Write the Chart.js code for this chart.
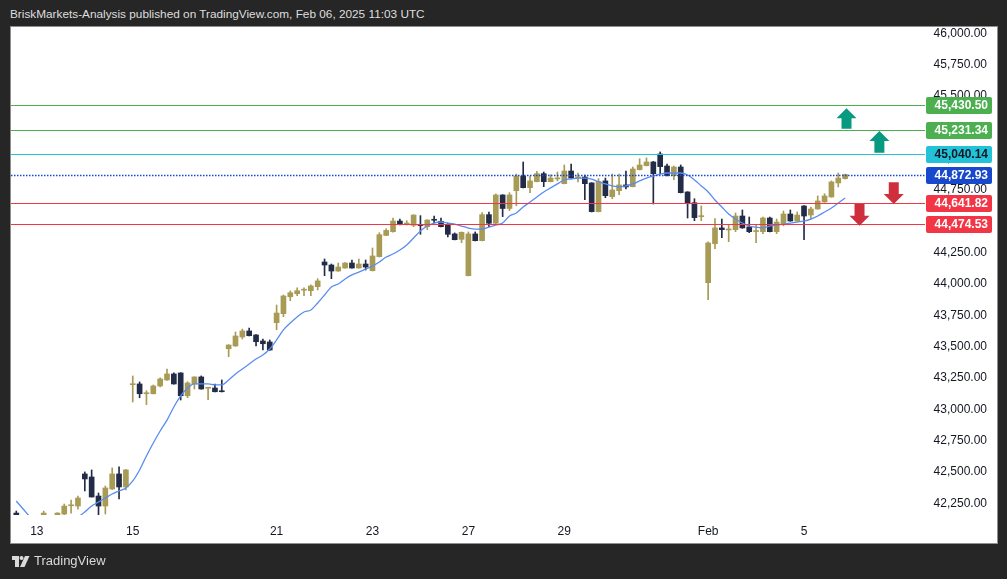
<!DOCTYPE html>
<html lang="en">
<head>
<meta charset="UTF-8">
<title>US30 4H</title>
<style>
  html, body { margin: 0; padding: 0; background: #262626; }
  body { width: 1007px; height: 579px; position: relative; overflow: hidden; font-family: "Liberation Sans", Arial, sans-serif; }
  .titulo { position: absolute; left: 10px; top: 5px; line-height: 18px; color: #dedede; font-size: 11.8px; white-space: nowrap; }
  .painel { position: absolute; left: 10px; top: 26px; width: 988px; height: 518px; background: #fff; border: 1px solid #8f8f8f; box-sizing: border-box; }
  canvas { position: absolute; left: 0; top: 0; }
  .rodape { position: absolute; left: 12px; top: 552px; line-height: 18px; color: #dadada; font-size: 13px; display: flex; align-items: center; gap: 4px; }
</style>
</head>
<body>
  <div class="titulo">BriskMarkets-Analysis published on TradingView.com, Feb 06, 2025 11:03 UTC</div>
  <div class="painel"></div>
  <canvas id="grafico" width="1007" height="579"></canvas>
  <div class="rodape">
    <svg width="18" height="11" viewBox="0 0 18 11"><path fill="#dadada" d="M0 0h7v11H3V4H0z"/><circle fill="#dadada" cx="9.5" cy="2" r="2"/><path fill="#dadada" d="M13 0h4.5l-5 11H8z"/></svg>
    <span>TradingView</span>
  </div>

<script src="https://cdn.jsdelivr.net/npm/chart.js"></script>
<script>
    // candles de 4h, um por slot (null = fora da area visivel)
    var abertura = [42172, null, null, null, 42120, null, 42130, 42164, 42230, 42228,
        42484, 42460, 42308, 42228, 42364, 42484, 42380, 43196, 43202, 43124,
        43124, 43186, 43234, 43282, 43290, 43108, 43202, 43258, 43168, 43170,
        43142, 43483, 43505, 43577, 43625, 43593, 43545, 43537, 43691, 43763,
        43898, 43922, 43950, 43946, 43978, 44175, 44151, 44103, 44127, 44167,
        44127, 44159, 44106, 44218, 44387, 44417, 44502, 44478, 44468, 44470,
        44457, 44512, 44500, 44468, 44399, 44356, 44066, 44399, 44345, 44553,
        44484, 44710, 44602, 44744, 44861, 44768, 44816, 44880, 44816, 44838,
        44800, 44901, 44846, 44853, 44806, 44577, 44822, 44696, 44744, 44790,
        44776, 44912, 44944, 44973, 45037, 44941, 44864, 44933, 44734, 44648,
        44537, 44010, 44321, 44447, 44431, 44433, 44542, 44455, 44418, 44417,
        44526, 44417, 44478, 44558, 44502, 44622, 44550, 44598, 44654, 44694,
        44806, 44840];
    var maxima = [42188, null, null, null, 42188, null, 42175, 42244, 42276, 42308,
        42500, 42516, 42332, 42388, 42532, 42540, 42520, 43266, 43218, 43148,
        43194, 43250, 43321, 43290, 43292, 43220, 43260, 43266, 43172, 43202,
        43234, 43515, 43617, 43640, 43648, 43595, 43561, 43553, 43832, 43912,
        43944, 43968, 43968, 43992, 44042, 44199, 44159, 44167, 44170, 44191,
        44199, 44191, 44287, 44409, 44441, 44526, 44518, 44505, 44552, 44545,
        44512, 44542, 44526, 44486, 44407, 44415, 44415, 44415, 44569, 44574,
        44718, 44712, 44728, 44877, 44973, 44861, 44899, 44893, 44872, 44893,
        44949, 44957, 44885, 44869, 44808, 44840, 44845, 44877, 44877, 44901,
        44933, 44999, 45005, 44978, 45053, 44957, 44941, 44949, 44736, 44680,
        44622, 44335, 44521, 44518, 44470, 44566, 44590, 44534, 44470, 44534,
        44534, 44518, 44582, 44590, 44574, 44625, 44614, 44702, 44720, 44822,
        44885, 44877];
    var minimas = [42100, null, null, null, 42090, null, 42100, 42148, 42172, 42204,
        42348, 42300, 42148, 42164, 42360, 42284, 42356, 43058, 43092, 43037,
        43122, 43178, 43230, 43200, 43074, 43092, 43162, 43160, 43077, 43139,
        43138, 43420, 43502, 43561, 43585, 43505, 43473, 43470, 43635, 43739,
        43866, 43906, 43906, 43906, 43952, 44066, 44042, 44100, 44125, 44125,
        44125, 44111, 44103, 44215, 44385, 44414, 44470, 44470, 44457, 44396,
        44433, 44486, 44454, 44375, 44351, 44329, 44064, 44343, 44343, 44457,
        44482, 44537, 44585, 44624, 44766, 44728, 44814, 44776, 44814, 44822,
        44798, 44843, 44814, 44672, 44574, 44574, 44688, 44680, 44712, 44758,
        44774, 44909, 44941, 44638, 44877, 44861, 44832, 44726, 44526, 44505,
        44505, 43874, 44281, 44369, 44337, 44417, 44444, 44409, 44329, 44401,
        44415, 44401, 44463, 44500, 44500, 44353, 44518, 44596, 44652, 44692,
        44774, 44835];
    var fechamento = [42117, null, null, null, 42172, null, 42172, 42228, 42234, 42292,
        42444, 42300, 42228, 42372, 42484, 42380, 42516, 43200, 43124, 43126,
        43186, 43242, 43282, 43202, 43108, 43210, 43258, 43162, 43170, 43140,
        43140, 43513, 43585, 43625, 43587, 43539, 43523, 43473, 43768, 43904,
        43930, 43946, 43952, 43984, 44024, 44151, 44103, 44135, 44167, 44127,
        44159, 44135, 44223, 44393, 44427, 44502, 44473, 44480, 44550, 44466,
        44510, 44508, 44457, 44396, 44353, 44412, 44399, 44345, 44553, 44484,
        44710, 44602, 44710, 44861, 44768, 44822, 44880, 44816, 44845, 44840,
        44901, 44845, 44848, 44800, 44577, 44816, 44704, 44750, 44790, 44774,
        44917, 44949, 44973, 44880, 44936, 44864, 44933, 44728, 44640, 44529,
        44540, 44327, 44447, 44433, 44434, 44542, 44447, 44417, 44422, 44526,
        44417, 44494, 44558, 44502, 44550, 44542, 44598, 44662, 44702, 44814,
        44845, 44872.93];

    // media movel (linha azul)
    var media = [42268, 42204, 42141, null, null, null, null, null, null, 42140,
        42180, 42228, 42260, 42292, 42324, 42348, 42372, 42428, 42516, 42627,
        42731, 42827, 42914, 43018, 43106, 43170, 43202, 43202, 43202, 43194,
        43194, 43234, 43282, 43321, 43361, 43401, 43433, 43481, 43553, 43633,
        43688, 43736, 43776, 43792, 43848, 43912, 43976, 44000, 44040, 44072,
        44095, 44119, 44143, 44175, 44215, 44239, 44271, 44311, 44367, 44422,
        44462, 44486, 44494, 44486, 44478, 44462, 44446, 44438, 44438, 44454,
        44470, 44486, 44542, 44566, 44614, 44654, 44694, 44734, 44766, 44798,
        44830, 44837, 44845, 44845, 44837, 44814, 44798, 44782, 44774, 44782,
        44798, 44822, 44845, 44861, 44877, 44885, 44885, 44885, 44869, 44830,
        44782, 44734, 44670, 44614, 44558, 44518, 44486, 44462, 44454, 44446,
        44462, 44470, 44478, 44486, 44494, 44502, 44518, 44542, 44574, 44606,
        44646, 44686];

    var diasTexto = ['13', '15', '21', '23', '27', '29', 'Feb', '5'];
    var diasSlot = [3, 17, 38, 52, 66, 80, 101, 115];
    var precosEixo = [42250, 42500, 42750, 43000, 43250, 43500, 43750, 44000, 44250,
        44500, 44750, 45000, 45250, 45500, 45750, 46000];

    var niveis = [45430.50, 45231.34, 45040.14, 44641.82, 44474.53];
    var ultimoPreco = 44872.93;

    var corNiveis = ['#4caf50', '#4caf50', '#22c3d9', '#f23645', '#f23645'];
    var corTextoNiveis = ['#ffffff', '#ffffff', '#131722', '#ffffff', '#ffffff'];

    // setas desenhadas (slot, preco da cauda, preco da ponta)
    var setas = [
        { slot: 121.2, cauda: 45239, ponta: 45402, cor: '#089981' },
        { slot: 126.0, cauda: 45047, ponta: 45220, cor: '#089981' },
        { slot: 128.1, cauda: 44811, ponta: 44638, cor: '#cf2e3c' },
        { slot: 123.1, cauda: 44638, ponta: 44465, cor: '#cf2e3c' }
    ];

    var OURO = '#a89b55';
    var ESCURO = '#232c46';

    var pavios = [];
    var corpos = [];
    var cores = [];
    var linhaMedia = [];
    for (var i = 0; i < abertura.length; i++) {
        if (abertura[i] == null) {
            pavios.push({ x: i, y: null });
            corpos.push({ x: i, y: null });
            cores.push(OURO);
        } else {
            pavios.push({ x: i, y: [minimas[i], maxima[i]] });
            corpos.push({ x: i, y: [Math.min(abertura[i], fechamento[i]), Math.max(abertura[i], fechamento[i])] });
            cores.push(fechamento[i] >= abertura[i] ? OURO : ESCURO);
        }
    }
    for (var j = 0; j < media.length; j++) {
        linhaMedia.push({ x: j, y: media[j] });
    }

    function formatar(v) {
        return v.toLocaleString('en-US', { minimumFractionDigits: 2, maximumFractionDigits: 2 });
    }

    const desenhos = {
        id: 'desenhos',
        afterDatasetsDraw(chart) {
            const ctx = chart.ctx;
            const a = chart.chartArea;
            const x = chart.scales.x;
            const y = chart.scales.y;
            ctx.save();
            ctx.beginPath();
            ctx.rect(a.left, a.top, a.right - a.left, a.bottom - a.top);
            ctx.clip();

            niveis.forEach(function (v, k) {
                var py = Math.round(y.getPixelForValue(v)) + 0.5;
                ctx.strokeStyle = corNiveis[k];
                ctx.lineWidth = 1;
                ctx.beginPath();
                ctx.moveTo(a.left, py);
                ctx.lineTo(a.right, py);
                ctx.stroke();
            });

            // linha pontilhada do ultimo preco
            var pu = Math.round(y.getPixelForValue(ultimoPreco)) + 0.5;
            ctx.strokeStyle = '#1848cc';
            ctx.lineWidth = 1.4;
            ctx.setLineDash([1.5, 1.5]);
            ctx.beginPath();
            ctx.moveTo(a.left, pu);
            ctx.lineTo(a.right, pu);
            ctx.stroke();
            ctx.setLineDash([]);

            setas.forEach(function (s) {
                var cx = x.getPixelForValue(s.slot);
                var pPonta = y.getPixelForValue(s.ponta);
                var pCauda = y.getPixelForValue(s.cauda);
                var dir = pPonta < pCauda ? 1 : -1;
                var base = pPonta + dir * 10;
                ctx.fillStyle = s.cor;
                ctx.beginPath();
                ctx.moveTo(cx, pPonta);
                ctx.lineTo(cx + 10, base);
                ctx.lineTo(cx + 5, base);
                ctx.lineTo(cx + 5, pCauda);
                ctx.lineTo(cx - 5, pCauda);
                ctx.lineTo(cx - 5, base);
                ctx.lineTo(cx - 10, base);
                ctx.closePath();
                ctx.fill();
            });
            ctx.restore();
        },
        afterDraw(chart) {
            const ctx = chart.ctx;
            const a = chart.chartArea;
            const y = chart.scales.y;
            var etiquetas = niveis.map(function (v, k) {
                return { v: v, fundo: corNiveis[k], texto: corTextoNiveis[k] };
            });
            etiquetas.push({ v: ultimoPreco, fundo: '#1848cc', texto: '#ffffff' });
            ctx.save();
            ctx.font = 'bold 12px "Liberation Sans", Arial, sans-serif';
            ctx.textAlign = 'right';
            ctx.textBaseline = 'middle';
            etiquetas.forEach(function (e) {
                var py = Math.round(y.getPixelForValue(e.v));
                ctx.fillStyle = e.fundo;
                ctx.beginPath();
                ctx.roundRect(a.right + 1, py - 8, 66, 17, 2);
                ctx.fill();
                ctx.fillStyle = e.texto;
                ctx.fillText(formatar(e.v), a.right + 63, py + 1);
            });
            ctx.restore();
        }
    };

    const ctx = document.getElementById('grafico');

    var grafico = new Chart(ctx, {
        type: 'bar',
        data: {
            datasets: [
                {
                    type: 'line',
                    data: linhaMedia,
                    borderColor: '#5a8cf0',
                    borderWidth: 1.3,
                    pointRadius: 0,
                    cubicInterpolationMode: 'monotone',
                    spanGaps: false,
                    order: 0
                },
                {
                    data: corpos,
                    backgroundColor: cores,
                    barThickness: 5,
                    minBarLength: 1,
                    grouped: false,
                    order: 1
                },
                {
                    data: pavios,
                    backgroundColor: cores,
                    barThickness: 1,
                    minBarLength: 1,
                    grouped: false,
                    order: 2
                }
            ]
        },
        options: {
            responsive: false,
            animation: false,
            events: [],
            layout: { padding: { left: 11, top: 27, right: 20, bottom: 36 } },
            plugins: { legend: { display: false }, tooltip: { enabled: false } },
            scales: {
                x: {
                    type: 'linear',
                    min: -0.774,
                    max: 132.66,
                    offset: false,
                    grid: { display: false, drawTicks: false },
                    border: { display: false },
                    afterBuildTicks: function (scale) {
                        scale.ticks = diasSlot.map(function (v) { return { value: v }; });
                    },
                    afterFit: function (scale) {
                        scale.height = 28;
                        scale.paddingLeft = 0;
                        scale.paddingRight = 0;
                    },
                    ticks: {
                        autoSkip: false,
                        maxRotation: 0,
                        padding: 9,
                        color: '#131722',
                        font: { family: '"Liberation Sans", Arial, sans-serif', size: 12 },
                        callback: function (v) {
                            var k = diasSlot.indexOf(v);
                            return k >= 0 ? diasTexto[k] : '';
                        }
                    }
                },
                y: {
                    position: 'right',
                    min: 42156.5,
                    max: 46050,
                    beginAtZero: false,
                    grid: { display: false, drawTicks: false },
                    border: { display: false },
                    afterBuildTicks: function (scale) {
                        scale.ticks = precosEixo.map(function (v) { return { value: v }; });
                    },
                    afterFit: function (scale) {
                        scale.width = 62;
                        scale.paddingTop = 0;
                        scale.paddingBottom = 0;
                    },
                    ticks: {
                        crossAlign: 'far',
                        color: '#131722',
                        font: { family: '"Liberation Sans", Arial, sans-serif', size: 12 },
                        callback: function (v) { return formatar(v); }
                    }
                }
            }
        },
        plugins: [desenhos]
    });
</script>
</body>
</html>
